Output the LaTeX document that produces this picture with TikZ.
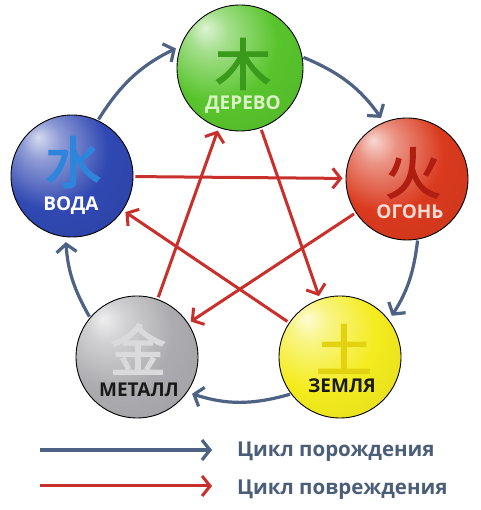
\documentclass[tikz,border=0pt]{standalone}
\usepackage{fontspec}
\setmainfont{Open Sans}
\newfontfamily\cjk[FakeBold=2.5]{Noto Sans CJK SC}
\usetikzlibrary{arrows.meta}
\definecolor{gen}{HTML}{4E6283}
\definecolor{dmg}{HTML}{C9302C}
\definecolor{legtxt}{HTML}{4B5E78}
\definecolor{woodc}{HTML}{58C42C}
\definecolor{waterc}{HTML}{3048B2}
\definecolor{firec}{HTML}{DA3A1E}
\definecolor{metalc}{HTML}{ACACB0}
\definecolor{earthc}{HTML}{F4EC1E}
\definecolor{woodg}{HTML}{3A9A1C}
\definecolor{waterg}{HTML}{2E86DC}
\definecolor{fireg}{HTML}{B01E12}
\definecolor{metalg}{HTML}{DADADC}
\definecolor{earthg}{HTML}{E2D210}
\definecolor{woodt}{HTML}{DAF2C6}
\definecolor{firet}{HTML}{F8DCD4}
\pgfdeclareradialshading[sphc]{sphere}{\pgfpoint{-14bp}{16bp}}{%
  color(0bp)=(sphc!20!white);
  color(8bp)=(sphc!55!white);
  color(24bp)=(sphc);
  color(50bp)=(sphc!90!black);
  color(70bp)=(sphc!82!black)}
\colorlet{sphc}{green}
\tikzset{
  sph/.code={\colorlet{sphc}{#1}\tikzset{shading=sphere}},
  elem/.style={circle, draw=black, line width=0.9pt, minimum size=122pt, inner sep=0pt},
  glyph/.style={font=\cjk\fontsize{56}{56}\selectfont, inner sep=0pt},
  lbl/.style={font=\bfseries\fontsize{19}{19}\selectfont, inner sep=0pt},
  genarr/.style={draw=gen, line width=3.2pt, -{Straight Barb[length=8pt,width=20pt]}, shorten <=1pt, shorten >=5pt},
  dmgarr/.style={draw=dmg, line width=3pt, -{Straight Barb[length=8pt,width=20pt]}, shorten <=2pt, shorten >=3pt},
  legtext/.style={font=\bfseries\fontsize{20.5}{20.5}\selectfont, text=legtxt, anchor=base west, inner sep=0pt}
}
\begin{document}
\begin{tikzpicture}[x=1pt,y=1pt]
\useasboundingbox[fill=white] (0,0) rectangle (480,510);
% elements
\node[elem, sph=woodc, minimum size=126pt] (wood) at (240,442) {};
\node[elem, sph=firec] (fire) at (407,331) {};
\node[elem, sph=earthc] (earth) at (340,153) {};
\node[elem, sph=metalc] (metal) at (137,153) {};
\node[elem, sph=waterc] (water) at (72,334) {};
% glyphs and labels
\node[glyph, text=woodg] (woodgl) at ([shift={(3,4)}]wood.center) {木};
\node[lbl, text=woodt] (woodl) at ([shift={(3,-37)}]wood.center) {ДЕРЕВО};
\node[glyph, text=waterg] (watergl) at ([shift={(1,14)}]water.center) {水};
\node[lbl, text=white] (waterl) at ([shift={(-1,-30)}]water.center) {ВОДА};
\node[glyph, text=fireg] (firegl) at ([shift={(6,6)}]fire.center) {火};
\node[lbl, text=firet] (firel) at ([shift={(3,-33)}]fire.center) {ОГОНЬ};
\node[glyph, text=metalg] (metalgl) at ([shift={(1,8)}]metal.center) {金};
\node[lbl, text=black!90] (metall) at ([shift={(2,-33)}]metal.center) {МЕТАЛЛ};
\node[glyph, text=earthg] (earthgl) at ([shift={(4,8)}]earth.center) {土};
\node[lbl, text=black!90] (earthl) at ([shift={(2,-29)}]earth.center) {ЗЕМЛЯ};
% generating cycle
\draw[genarr] (wood.10) to[bend left=16] (fire.112);
\draw[genarr] (fire.-80) to[bend left=13] (earth.37);
\draw[genarr] (earth.-143) to[bend left=17] (metal.-35);
\draw[genarr] (metal.140) to[bend left=13] (water.-96);
\draw[genarr] (water.65) to[bend left=16] (wood.160);
% destruction cycle
\draw[dmgarr] (wood) -- (earth);
\draw[dmgarr] (earth) -- (water);
\draw[dmgarr] (water) -- (fire);
\draw[dmgarr] (fire) -- (metal);
\draw[dmgarr] (metal) -- (wood);
% legend
\coordinate (g1) at (40,60);
\coordinate (g2) at (212,60);
\coordinate (d1) at (40,24);
\coordinate (d2) at (212,24);
\draw[genarr, shorten >=0pt, shorten <=0pt] (g1) -- (g2);
\draw[dmgarr, shorten >=0pt, shorten <=0pt] (d1) -- (d2);
\node[legtext] (gt) at (237,53) {Цикл порождения};
\node[legtext] (dt) at (237,15) {Цикл повреждения};
\end{tikzpicture}
\end{document}
